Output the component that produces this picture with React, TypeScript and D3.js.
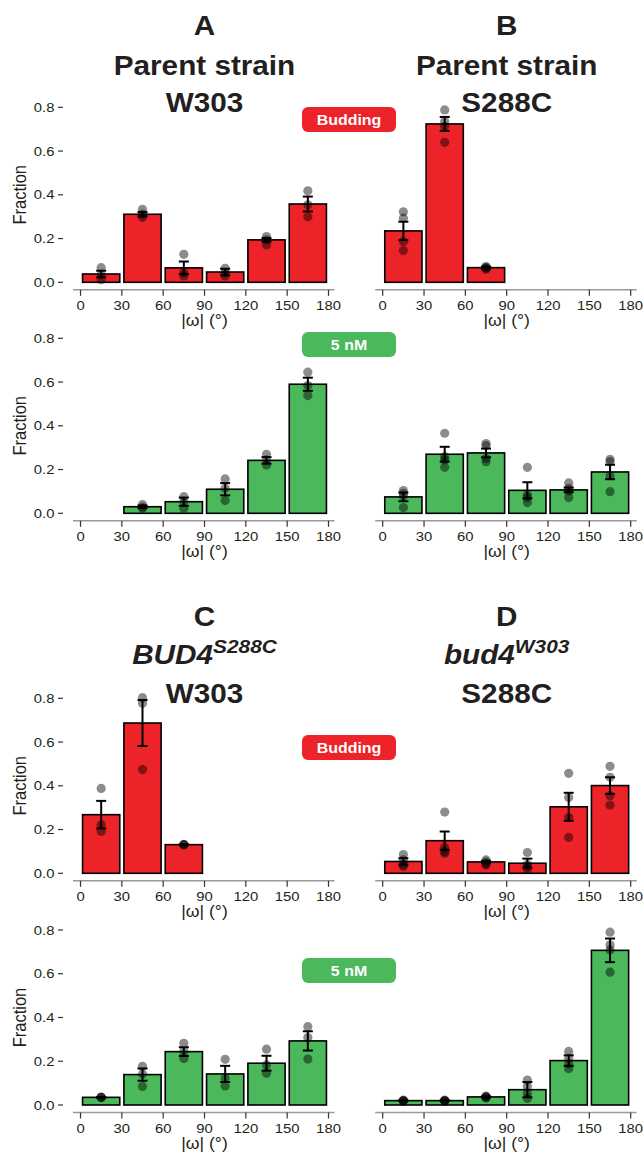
import React, { useEffect } from 'react';
import * as d3 from 'd3';

// angle bins (degrees)
const angleTicks = [0, 30, 60, 90, 120, 150, 180];
const binCenters = [15, 45, 75, 105, 135, 165];
const fractionTicks = [0, 0.2, 0.4, 0.6, 0.8];

// A - parent W303
const aBudMean = [0.038, 0.311, 0.066, 0.047, 0.194, 0.358];
const aBudSe = [0.015, 0.01, 0.029, 0.015, 0.008, 0.034];
const aBudPts = [[0.067, 0.035, 0.012], [0.334, 0.312, 0.297], [0.128, 0.044, 0.029], [0.064, 0.044, 0.029], [0.209, 0.194, 0.171], [0.418, 0.354, 0.3]];
const aNmMean = [null, 0.03, 0.053, 0.11, 0.242, 0.59];
const aNmSe = [0, 0.006, 0.019, 0.028, 0.015, 0.03];
const aNmPts = [[], [0.04, 0.028, 0.022], [0.076, 0.053, 0.023], [0.157, 0.114, 0.058], [0.27, 0.244, 0.221], [0.645, 0.584, 0.538]];

// B - parent S288C
const bBudMean = [0.235, 0.724, 0.067, null, null, null];
const bBudSe = [0.042, 0.032, 0.005, 0, 0, 0];
const bBudPts = [[0.322, 0.293, 0.186, 0.145], [0.788, 0.735, 0.712, 0.64], [0.072, 0.068, 0.064, 0.06], [], [], []];
const bNmMean = [0.075, 0.27, 0.276, 0.105, 0.107, 0.189];
const bNmSe = [0.02, 0.034, 0.02, 0.037, 0.011, 0.033];
const bNmPts = [[0.104, 0.091, 0.079, 0.026], [0.366, 0.259, 0.244, 0.21], [0.319, 0.309, 0.251, 0.236], [0.21, 0.084, 0.072, 0.049], [0.139, 0.114, 0.102, 0.072], [0.247, 0.236, 0.172, 0.099]];

// C - BUD4 S288C in W303
const cBudMean = [0.268, 0.687, 0.131, null, null, null];
const cBudSe = [0.063, 0.105, 0, 0, 0, 0];
const cBudPts = [[0.388, 0.222, 0.191], [0.803, 0.777, 0.474], [0.132, 0.131, 0.13], [], [], []];
const cNmMean = [0.035, 0.139, 0.244, 0.142, 0.191, 0.293];
const cNmSe = [0.001, 0.028, 0.02, 0.037, 0.034, 0.044];
const cNmPts = [[0.036, 0.035, 0.034], [0.177, 0.142, 0.085], [0.282, 0.244, 0.213], [0.209, 0.122, 0.087], [0.255, 0.183, 0.145], [0.358, 0.308, 0.21]];

// D - bud4 W303 in S288C
const dBudMean = [0.054, 0.149, 0.052, 0.046, 0.304, 0.401];
const dBudSe = [0.015, 0.042, 0.005, 0.021, 0.064, 0.038];
const dBudPts = [[0.086, 0.061, 0.041, 0.031], [0.28, 0.118, 0.1, 0.092], [0.061, 0.052, 0.044, 0.038], [0.095, 0.04, 0.03, 0.02], [0.457, 0.347, 0.255, 0.164], [0.489, 0.439, 0.355, 0.312]];
const dNmMean = [0.02, 0.02, 0.037, 0.07, 0.203, 0.707];
const dNmSe = [0.002, 0.002, 0.003, 0.035, 0.024, 0.054];
const dNmPts = [[0.022, 0.02, 0.019, 0.018], [0.022, 0.02, 0.019, 0.018], [0.041, 0.038, 0.035, 0.032], [0.114, 0.084, 0.053, 0.03], [0.245, 0.213, 0.188, 0.166], [0.79, 0.732, 0.709, 0.607]];

const RED = '#ec2328';
const GREEN = '#4cb85c';
const INK = '#231f20';
const FONT = "'Liberation Sans', Arial, Helvetica, sans-serif";
const SX = 1.1; // text in the figure is a bit wide

function Panel({ left, zero, mean, se, pts, color, yAxis }) {
  const x = d3.scaleLinear().domain([0, 180]).range([left, left + 248]);
  const y = d3.scaleLinear().domain([0, 0.8]).range([zero, zero - 175]);
  const axisY = zero + 7.5;
  const half = (x(27) - x(0)) / 2;
  const fmt = d3.format('.1f');
  return (
    <g>
      {mean.map((m, i) =>
        m == null ? null : (
          <rect key={'b' + i} x={x(binCenters[i]) - half} y={y(m)} width={half * 2} height={y(0) - y(m)}
            fill={color} stroke="black" strokeWidth={1.6} />
        ))}
      {pts.map((p, i) =>
        p.map((v, j) => (
          <circle key={'p' + i + '-' + j} cx={x(binCenters[i])} cy={y(v)} r={4.6} fill="black" fillOpacity={0.45} />
        )))}
      {mean.map((m, i) => {
        if (m == null) return null;
        const cx = x(binCenters[i]);
        const y1 = y(m + se[i]);
        const y2 = y(m - se[i]);
        return (
          <g key={'e' + i} stroke="black" strokeWidth={2}>
            <line x1={cx} x2={cx} y1={y1} y2={y2} />
            <line x1={cx - 5} x2={cx + 5} y1={y1} y2={y1} />
            <line x1={cx - 5} x2={cx + 5} y1={y2} y2={y2} />
          </g>
        );
      })}
      <line x1={x(0) - 7.5} x2={x(180) + 6} y1={axisY} y2={axisY} stroke="#9a9a9a" strokeWidth={1.6} />
      {angleTicks.map(t => (
        <g key={'xt' + t}>
          <line x1={x(t)} x2={x(t)} y1={axisY} y2={axisY + 6} stroke="#333" strokeWidth={1.2} />
          <text transform={`translate(${x(t)},${zero + 28}) scale(${SX},1)`} textAnchor="middle"
            fontSize={13.5} fill={INK} fontFamily={FONT}>{t}</text>
        </g>
      ))}
      <text transform={`translate(${(x(0) + x(180)) / 2},${zero + 44}) scale(${SX},1)`} textAnchor="middle"
        fontSize={16} fill={INK} fontFamily={FONT}>|ω| (°)</text>
      {yAxis && fractionTicks.map(t => (
        <g key={'yt' + t}>
          <line x1={x(0) - 22.5} x2={x(0) - 17.5} y1={y(t)} y2={y(t)} stroke="#333" strokeWidth={1.2} />
          <text transform={`translate(${x(0) - 26},${y(t) + 4.5}) scale(${SX},1)`} textAnchor="end"
            fontSize={13.5} fill={INK} fontFamily={FONT}>{fmt(t)}</text>
        </g>
      ))}
      {yAxis && (
        <text transform={`translate(26,${y(0.4)}) scale(${SX},1) rotate(-90)`} textAnchor="middle"
          fontSize={16.5} fill={INK} fontFamily={FONT}>Fraction</text>
      )}
    </g>
  );
}

function Tag({ cy, label, color }) {
  return (
    <g>
      <rect x={302} y={cy - 12.5} width={94} height={25} rx={6} fill={color} />
      <text transform={`translate(349,${cy + 5}) scale(${SX},1)`} textAnchor="middle" fontSize={14.5}
        fontWeight="bold" fill="white" fontFamily={FONT}>{label}</text>
    </g>
  );
}

function Title({ cx, top, letter, children }) {
  return (
    <g fontFamily={FONT} fontWeight="bold" fill={INK} fontSize={27} textAnchor="middle">
      <text transform={`translate(${cx},${top}) scale(${SX},1)`}>{letter}</text>
      {children}
    </g>
  );
}

export default function App() {
  useEffect(() => {
    document.body.style.margin = '0';
  }, []);
  const L = 80.5;
  const R = 382.7;
  const cl = L + 124;
  const cr = R + 124;
  const line = (cx, yy, content) => (
    <text transform={`translate(${cx},${yy}) scale(${SX},1)`}>{content}</text>
  );
  return (
    <svg width={644} height={1158} style={{ display: 'block', background: 'white' }}>
      <Title cx={cl} top={35} letter="A">
        {line(cl, 75, 'Parent strain')}
        {line(cl, 112, 'W303')}
      </Title>
      <Title cx={cr} top={35} letter="B">
        {line(cr, 75, 'Parent strain')}
        {line(cr, 112, 'S288C')}
      </Title>
      <Title cx={cl} top={626} letter="C">
        <text transform={`translate(${cl},664) scale(${SX},1)`} fontStyle="italic">
          BUD4<tspan fontSize={19} dy={-11}>S288C</tspan>
        </text>
        {line(cl, 703, 'W303')}
      </Title>
      <Title cx={cr} top={626} letter="D">
        <text transform={`translate(${cr},664) scale(${SX},1)`} fontStyle="italic">
          bud4<tspan fontSize={19} dy={-11}>W303</tspan>
        </text>
        {line(cr, 703, 'S288C')}
      </Title>

      <Panel left={L} zero={282.3} mean={aBudMean} se={aBudSe} pts={aBudPts} color={RED} yAxis />
      <Panel left={R} zero={282.3} mean={bBudMean} se={bBudSe} pts={bBudPts} color={RED} yAxis={false} />
      <Panel left={L} zero={513.3} mean={aNmMean} se={aNmSe} pts={aNmPts} color={GREEN} yAxis />
      <Panel left={R} zero={513.3} mean={bNmMean} se={bNmSe} pts={bNmPts} color={GREEN} yAxis={false} />
      <Panel left={L} zero={873.3} mean={cBudMean} se={cBudSe} pts={cBudPts} color={RED} yAxis />
      <Panel left={R} zero={873.3} mean={dBudMean} se={dBudSe} pts={dBudPts} color={RED} yAxis={false} />
      <Panel left={L} zero={1105} mean={cNmMean} se={cNmSe} pts={cNmPts} color={GREEN} yAxis />
      <Panel left={R} zero={1105} mean={dNmMean} se={dNmSe} pts={dNmPts} color={GREEN} yAxis={false} />

      <Tag cy={119.5} label="Budding" color={RED} />
      <Tag cy={344.5} label="5 nM" color={GREEN} />
      <Tag cy={747.5} label="Budding" color={RED} />
      <Tag cy={970.5} label="5 nM" color={GREEN} />
    </svg>
  );
}
